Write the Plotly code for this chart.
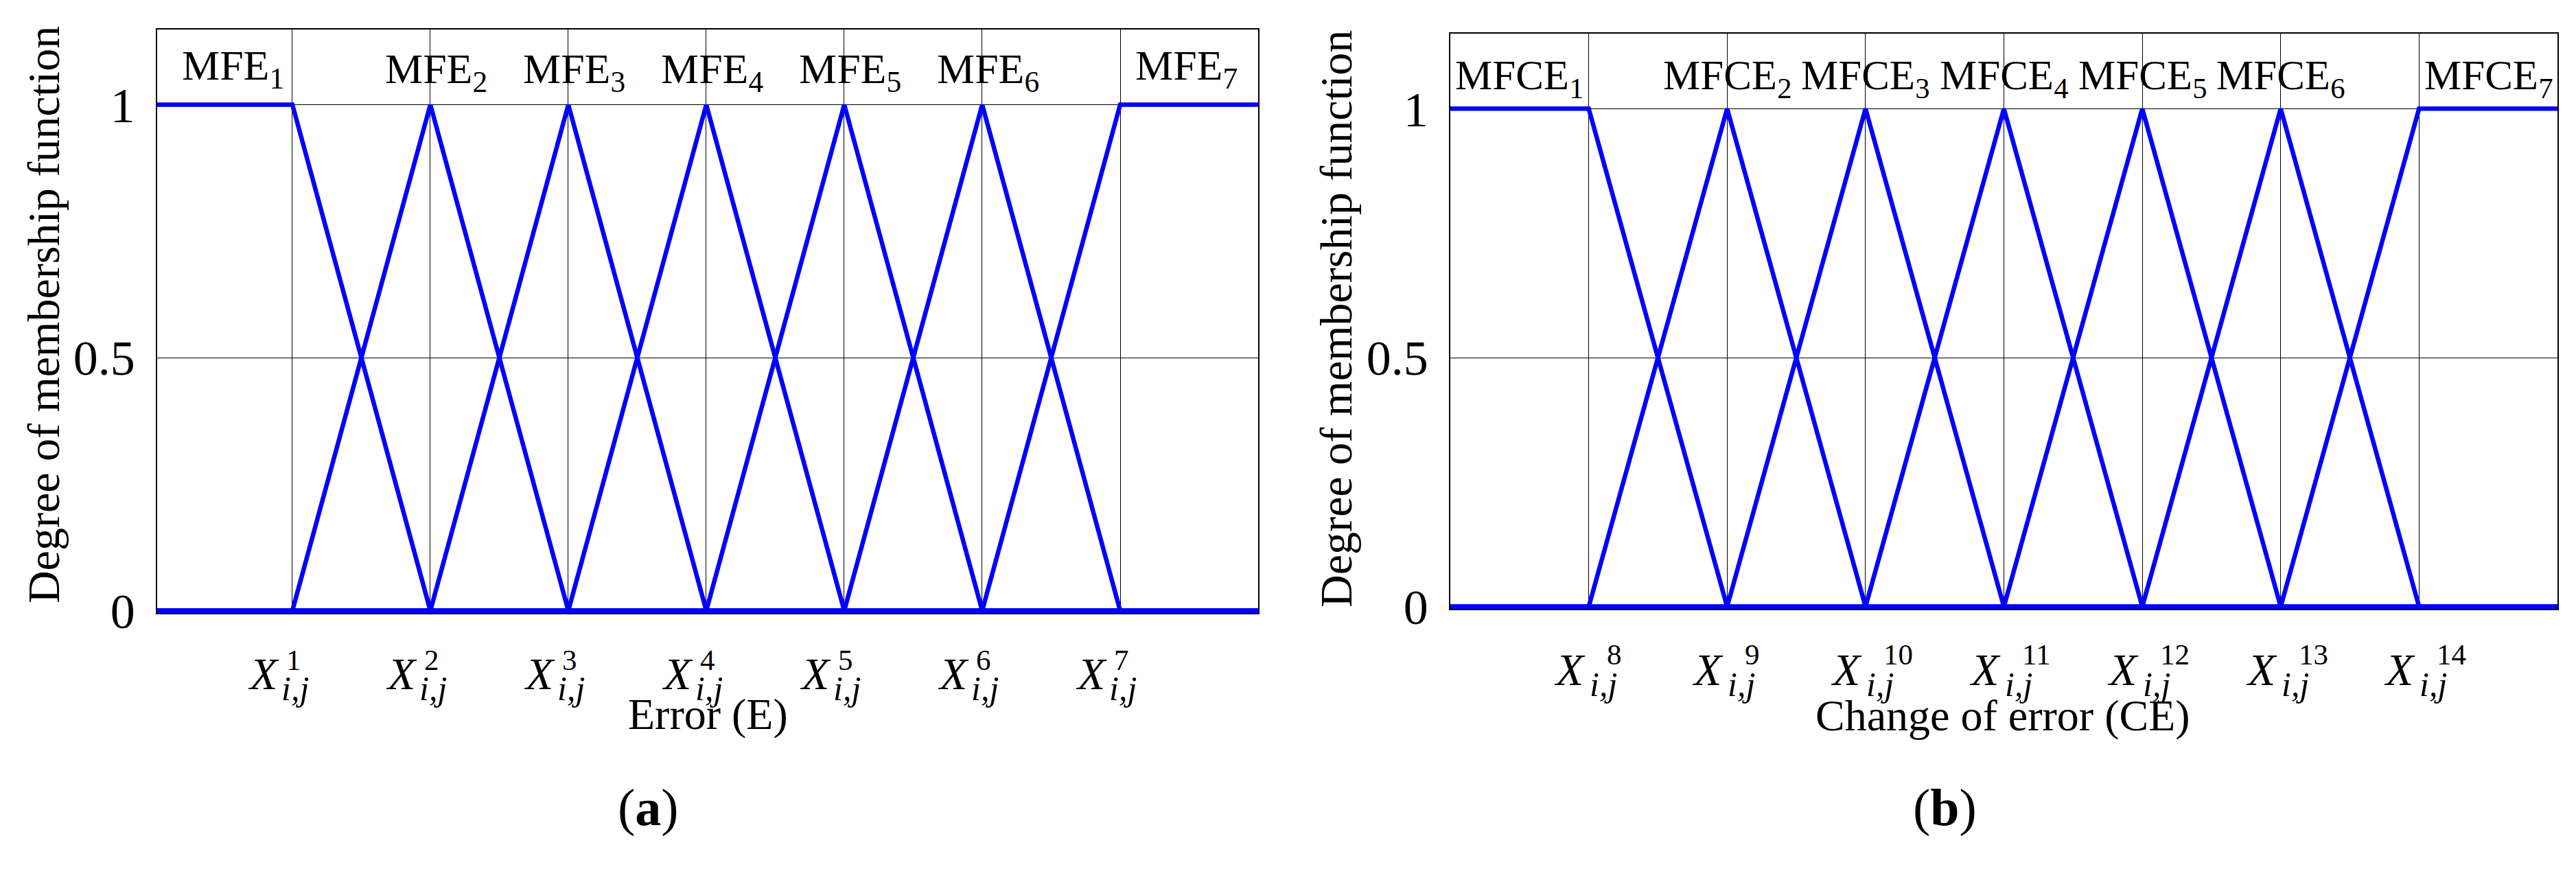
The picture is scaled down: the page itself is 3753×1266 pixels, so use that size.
import plotly.graph_objects as go

# ---------------- data ----------------
error_x = [0, 1, 2, 3, 4, 5, 6, 7, 8]          # breakpoints along Error axis
ce_x = [7, 8, 9, 10, 11, 12, 13, 14, 15]       # breakpoints along Change-of-error axis

error_centers = [1, 2, 3, 4, 5, 6, 7]
ce_centers = [8, 9, 10, 11, 12, 13, 14]

mfe_1 = [1, 1, 0, 0, 0, 0, 0, 0, 0]
mfe_2 = [0, 0, 1, 0, 0, 0, 0, 0, 0]
mfe_3 = [0, 0, 0, 1, 0, 0, 0, 0, 0]
mfe_4 = [0, 0, 0, 0, 1, 0, 0, 0, 0]
mfe_5 = [0, 0, 0, 0, 0, 1, 0, 0, 0]
mfe_6 = [0, 0, 0, 0, 0, 0, 1, 0, 0]
mfe_7 = [0, 0, 0, 0, 0, 0, 0, 1, 1]

mfce_1 = [1, 1, 0, 0, 0, 0, 0, 0, 0]
mfce_2 = [0, 0, 1, 0, 0, 0, 0, 0, 0]
mfce_3 = [0, 0, 0, 1, 0, 0, 0, 0, 0]
mfce_4 = [0, 0, 0, 0, 1, 0, 0, 0, 0]
mfce_5 = [0, 0, 0, 0, 0, 1, 0, 0, 0]
mfce_6 = [0, 0, 0, 0, 0, 0, 1, 0, 0]
mfce_7 = [0, 0, 0, 0, 0, 0, 0, 1, 1]

mfe_labels = ["MFE<sub>1</sub>", "MFE<sub>2</sub>", "MFE<sub>3</sub>", "MFE<sub>4</sub>",
              "MFE<sub>5</sub>", "MFE<sub>6</sub>", "MFE<sub>7</sub>"]
mfce_labels = ["MFCE<sub>1</sub>", "MFCE<sub>2</sub>", "MFCE<sub>3</sub>", "MFCE<sub>4</sub>",
               "MFCE<sub>5</sub>", "MFCE<sub>6</sub>", "MFCE<sub>7</sub>"]

error_tick_sup = ["1", "2", "3", "4", "5", "6", "7"]
ce_tick_sup = ["8", "9", "10", "11", "12", "13", "14"]

y_tickvals = [0, 0.5, 1]
y_ticktext = ["0", "0.5", "1"]

# ---------------- layout helpers ----------------
W, H = 3753, 1266
FONT = "Liberation Serif, Times New Roman, serif"
BLUE = "#0000FF"


def px_x(p):
    return p / W


def px_y(p):
    return (H - p) / H


fig = go.Figure()

for ys in [mfe_1, mfe_2, mfe_3, mfe_4, mfe_5, mfe_6, mfe_7]:
    fig.add_trace(go.Scatter(x=error_x, y=ys, mode="lines",
                             line=dict(color=BLUE, width=6.5),
                             xaxis="x", yaxis="y", showlegend=False,
                             hoverinfo="skip"))
for ys in [mfce_1, mfce_2, mfce_3, mfce_4, mfce_5, mfce_6, mfce_7]:
    fig.add_trace(go.Scatter(x=ce_x, y=ys, mode="lines",
                             line=dict(color=BLUE, width=6.5),
                             xaxis="x2", yaxis="y2", showlegend=False,
                             hoverinfo="skip"))

axis_common = dict(showgrid=True, gridcolor="black", gridwidth=1.2,
                   showline=True, linecolor="black", linewidth=1.6, mirror=True,
                   zeroline=False, ticks="")

fig.update_layout(
    width=W, height=H,
    margin=dict(l=0, r=0, t=0, b=0),
    paper_bgcolor="white", plot_bgcolor="white",
    xaxis=dict(domain=[px_x(221), px_x(1825)], range=[0.02, 8],
               tickvals=error_centers, showticklabels=False, **axis_common),
    yaxis=dict(domain=[px_y(912), px_y(36.5)], range=[-0.004, 1.148],
               tickvals=y_tickvals, ticktext=y_ticktext,
               tickfont=dict(family=FONT, size=72, color="black"),
               ticklabelstandoff=16, **axis_common),
    xaxis2=dict(domain=[px_x(2105), px_x(3718)], range=[7, 15],
                tickvals=ce_centers, showticklabels=False, anchor="y2",
                **axis_common),
    yaxis2=dict(domain=[px_y(906), px_y(42)], range=[-0.004, 1.151],
                tickvals=y_tickvals, ticktext=y_ticktext, anchor="x2",
                tickfont=dict(family=FONT, size=72, color="black"),
                ticklabelstandoff=16, **axis_common),
)

ann = []


def label_positions(centers, lo, hi):
    pos = []
    for i, c in enumerate(centers):
        if i == 0:
            pos.append((lo + c) / 2)
        elif i == len(centers) - 1:
            pos.append((c + hi) / 2)
        else:
            pos.append(c)
    return pos


# membership function labels
for i, (xp, t) in enumerate(zip(label_positions(error_centers, 0, 8), mfe_labels)):
    end = i in (0, len(mfe_labels) - 1)
    ann.append(dict(x=xp + (0.07 if i == 0 else (0.04 if not end else -0.02)),
                    y=px_y(94 if end else 99), xref="x", yref="paper",
                    text=t, showarrow=False, xanchor="center", yanchor="middle",
                    font=dict(family=FONT, size=62, color="black")))
for i, (xp, t) in enumerate(zip(label_positions(ce_centers, 7, 15), mfce_labels)):
    ann.append(dict(x=xp, y=px_y(109), xref="x2", yref="paper",
                    text=t, showarrow=False, xanchor="center", yanchor="middle",
                    font=dict(family=FONT, size=61, color="black")))


# x tick labels X^k_{i,j}
def tick_group(centers, sups, xref, ys, shifts):
    y_x, y_sup, y_sub = ys
    sx, ssup, ssub = shifts
    for c, s in zip(centers, sups):
        ann.append(dict(x=c, y=px_y(y_x), xref=xref, yref="paper", text="<i>X</i>",
                        showarrow=False, xanchor="right", yanchor="middle", xshift=sx,
                        font=dict(family=FONT, size=66, color="black")))
        ann.append(dict(x=c, y=px_y(y_sup), xref=xref, yref="paper", text=s,
                        showarrow=False, xanchor="left", yanchor="middle", xshift=ssup,
                        font=dict(family=FONT, size=43, color="black")))
        ann.append(dict(x=c, y=px_y(y_sub), xref=xref, yref="paper", text="<i>i,j</i>",
                        showarrow=False, xanchor="left", yanchor="middle", xshift=ssub,
                        font=dict(family=FONT, size=50, color="black")))


tick_group(error_centers, error_tick_sup, "x", (1004, 983, 1026), (-17, -11, -18))
tick_group(ce_centers, ce_tick_sup, "x2", (997, 975, 1020), (-3, 24, -1))

# axis titles
ann.append(dict(x=px_x(1023), y=px_y(1064), xref="paper", yref="paper",
                text="Error (E)", showarrow=False, xanchor="center", yanchor="middle",
                font=dict(family=FONT, size=64, color="black")))
ann.append(dict(x=px_x(2910), y=px_y(1067), xref="paper", yref="paper",
                text="Change of error (CE)", showarrow=False, xanchor="center",
                yanchor="middle", font=dict(family=FONT, size=64, color="black")))
ann.append(dict(x=px_x(55), y=px_y(465), xref="paper", yref="paper",
                text="Degree of membership function", textangle=-90, showarrow=False,
                xanchor="center", yanchor="middle",
                font=dict(family=FONT, size=66, color="black")))
ann.append(dict(x=px_x(1939), y=px_y(470), xref="paper", yref="paper",
                text="Degree of membership function", textangle=-90, showarrow=False,
                xanchor="center", yanchor="middle",
                font=dict(family=FONT, size=66, color="black")))

# panel letters
ann.append(dict(x=px_x(936), y=px_y(1205), xref="paper", yref="paper",
                text="(<b>a</b>)", showarrow=False, xanchor="center", yanchor="middle",
                font=dict(family=FONT, size=76, color="black")))
ann.append(dict(x=px_x(2825), y=px_y(1205), xref="paper", yref="paper",
                text="(<b>b</b>)", showarrow=False, xanchor="center", yanchor="middle",
                font=dict(family=FONT, size=76, color="black")))

fig.update_layout(annotations=ann)
fig.write_html("out.html")
